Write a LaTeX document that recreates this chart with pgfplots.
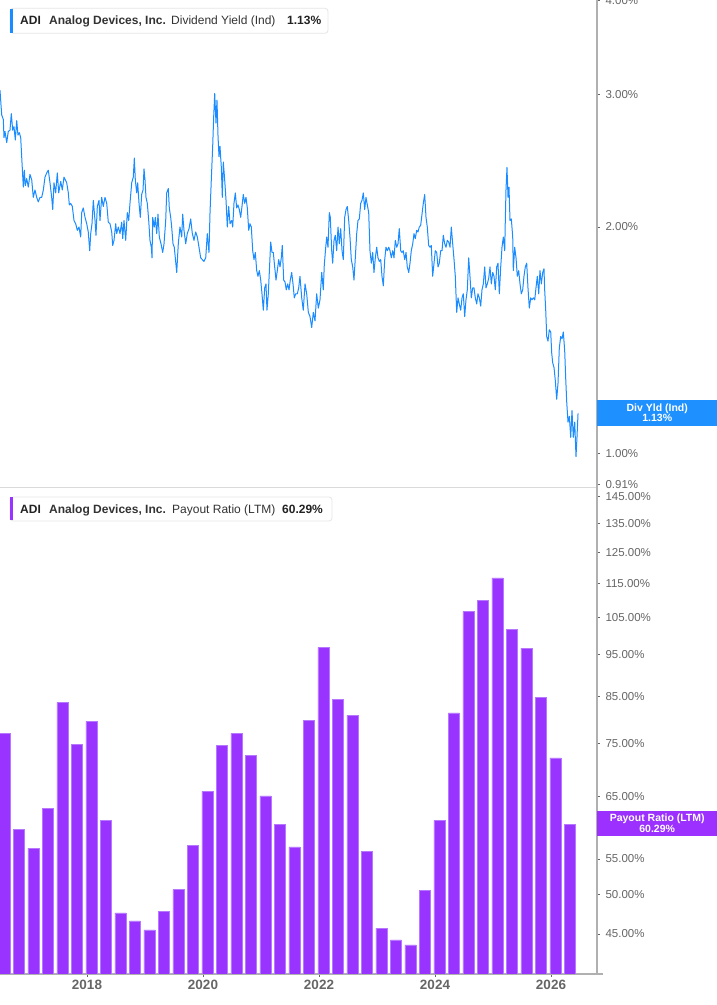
\documentclass[border=0pt]{standalone}
\usepackage{fontspec}
\setmainfont{Liberation Sans}
\usepackage{pgfplots}
\pgfplotsset{compat=1.18}
\definecolor{lineblue}{HTML}{1A8CFF}
\definecolor{barpurple}{HTML}{9933FF}
\definecolor{baredge}{HTML}{B877FF}
\definecolor{axisgray}{HTML}{B0B0B0}
\definecolor{sepgray}{HTML}{DADADA}
\definecolor{tickgray}{HTML}{666666}
\definecolor{labelgray}{HTML}{666666}
\definecolor{textdark}{HTML}{222222}
\definecolor{textmid}{HTML}{333333}
\definecolor{boxborder}{HTML}{E6E6E6}
\definecolor{boxblue}{HTML}{1E90FF}
\definecolor{boxpurple}{HTML}{9B30FF}
\begin{document}
\begin{tikzpicture}
\path[use as bounding box, fill=white] (0pt,0pt) rectangle (717pt,1005pt);
% ---------------- top panel: dividend yield ----------------
\begin{axis}[
  at={(0pt,518pt)}, anchor=south west, scale only axis,
  width=597pt, height=487pt,
  xmin=2016.5, xmax=2026.793,
  ymode=log, ymin=0.902, ymax=4.008,
  axis x line*=bottom, axis y line*=right,
  x axis line style={draw=sepgray, line width=0.8pt},
  y axis line style={draw=axisgray, line width=1.6pt},
  xtick=\empty,
  ytick={0.91,1,2,3,4},
  yticklabels={0.91\%,1.00\%,2.00\%,3.00\%,4.00\%},
  tick align=outside, major tick length=3pt,
  major tick style={draw=tickgray, line width=0.9pt},
  yticklabel style={font=\fontsize{11.5}{13}\selectfont, text=labelgray, anchor=west, xshift=2pt},
  clip mode=individual,
]
\addplot[lineblue, line width=1pt, line join=round] coordinates {
(2016.500,3.04) (2016.529,2.82) (2016.557,2.78) (2016.569,2.63) (2016.586,2.68) (2016.616,2.59) (2016.643,2.68) (2016.672,2.69) (2016.695,2.83) (2016.719,2.69) (2016.741,2.72) (2016.764,2.61) (2016.788,2.77) (2016.810,2.65) (2016.833,2.67) (2016.857,2.63) (2016.874,2.48) (2016.902,2.26) (2016.919,2.38) (2016.936,2.27) (2016.960,2.32) (2016.988,2.26) (2017.017,2.35) (2017.047,2.31) (2017.074,2.19) (2017.103,2.24) (2017.133,2.19) (2017.160,2.16) (2017.190,2.19) (2017.219,2.19) (2017.247,2.24) (2017.276,2.33) (2017.305,2.36) (2017.333,2.38) (2017.362,2.29) (2017.391,2.19) (2017.409,2.11) (2017.431,2.29) (2017.460,2.22) (2017.488,2.36) (2017.512,2.22) (2017.547,2.30) (2017.574,2.24) (2017.603,2.33) (2017.626,2.31) (2017.650,2.29) (2017.678,2.22) (2017.695,2.14) (2017.719,2.15) (2017.747,2.13) (2017.776,2.04) (2017.805,2.02) (2017.833,1.98) (2017.862,2.00) (2017.891,1.94) (2017.909,2.09) (2017.936,2.12) (2017.966,2.06) (2017.995,2.02) (2018.022,1.97) (2018.047,1.86) (2018.064,1.96) (2018.086,2.02) (2018.109,2.17) (2018.138,2.04) (2018.155,1.95) (2018.178,2.13) (2018.207,2.17) (2018.224,2.04) (2018.253,2.19) (2018.281,2.13) (2018.310,2.19) (2018.340,2.15) (2018.367,2.03) (2018.397,2.02) (2018.426,1.97) (2018.443,1.89) (2018.466,1.92) (2018.495,2.02) (2018.512,1.96) (2018.540,2.00) (2018.569,1.96) (2018.598,2.03) (2018.616,1.93) (2018.638,2.04) (2018.667,1.92) (2018.695,2.09) (2018.719,2.04) (2018.741,2.15) (2018.771,2.29) (2018.798,2.33) (2018.816,2.47) (2018.833,2.31) (2018.857,2.22) (2018.874,2.29) (2018.897,2.15) (2018.919,2.06) (2018.943,2.21) (2018.966,2.24) (2018.983,2.39) (2019.000,2.31) (2019.017,2.19) (2019.040,2.15) (2019.064,2.04) (2019.086,1.92) (2019.109,1.88) (2019.121,1.82) (2019.133,2.06) (2019.160,2.00) (2019.178,2.06) (2019.202,1.96) (2019.224,2.08) (2019.247,1.94) (2019.276,1.90) (2019.305,1.85) (2019.328,1.90) (2019.357,2.04) (2019.374,2.22) (2019.402,2.25) (2019.419,2.12) (2019.443,2.06) (2019.460,2.00) (2019.483,1.90) (2019.505,1.88) (2019.547,1.74) (2019.574,1.90) (2019.603,2.00) (2019.633,1.94) (2019.650,2.08) (2019.672,1.98) (2019.702,1.90) (2019.729,1.96) (2019.759,1.99) (2019.788,2.05) (2019.816,1.96) (2019.845,1.92) (2019.874,1.97) (2019.902,1.94) (2019.931,1.88) (2019.960,1.82) (2019.988,1.81) (2020.017,1.80) (2020.047,1.82) (2020.074,1.96) (2020.103,1.85) (2020.121,2.09) (2020.143,2.31) (2020.167,2.56) (2020.184,2.80) (2020.202,3.01) (2020.224,2.75) (2020.241,2.95) (2020.259,2.64) (2020.276,2.48) (2020.293,2.56) (2020.316,2.40) (2020.333,2.19) (2020.350,2.44) (2020.374,2.31) (2020.397,2.17) (2020.419,2.00) (2020.443,2.13) (2020.466,2.02) (2020.495,2.04) (2020.512,2.00) (2020.534,2.15) (2020.557,2.22) (2020.581,2.12) (2020.603,2.14) (2020.626,2.11) (2020.650,2.06) (2020.672,2.13) (2020.695,2.21) (2020.719,2.15) (2020.741,2.19) (2020.764,2.12) (2020.788,1.98) (2020.810,2.02) (2020.833,2.00) (2020.857,1.86) (2020.879,1.81) (2020.902,1.85) (2020.926,1.75) (2020.948,1.72) (2020.971,1.75) (2020.995,1.70) (2021.017,1.63) (2021.040,1.55) (2021.064,1.66) (2021.086,1.68) (2021.103,1.55) (2021.126,1.63) (2021.143,1.74) (2021.167,1.91) (2021.190,1.85) (2021.212,1.85) (2021.236,1.77) (2021.259,1.70) (2021.281,1.75) (2021.305,1.81) (2021.328,1.77) (2021.350,1.82) (2021.367,1.89) (2021.391,1.70) (2021.414,1.69) (2021.436,1.65) (2021.460,1.68) (2021.483,1.65) (2021.505,1.70) (2021.529,1.74) (2021.552,1.68) (2021.574,1.61) (2021.598,1.63) (2021.626,1.63) (2021.650,1.66) (2021.672,1.72) (2021.702,1.61) (2021.729,1.55) (2021.759,1.68) (2021.788,1.63) (2021.816,1.54) (2021.845,1.52) (2021.874,1.47) (2021.902,1.54) (2021.931,1.50) (2021.960,1.63) (2021.988,1.56) (2022.017,1.60) (2022.047,1.74) (2022.074,1.65) (2022.091,1.78) (2022.116,1.88) (2022.133,1.94) (2022.155,1.88) (2022.178,2.09) (2022.195,2.06) (2022.219,1.86) (2022.236,1.79) (2022.259,1.92) (2022.281,1.95) (2022.305,1.86) (2022.328,2.00) (2022.350,1.90) (2022.374,1.99) (2022.397,1.86) (2022.419,1.81) (2022.443,2.06) (2022.466,2.11) (2022.488,2.13) (2022.512,2.04) (2022.534,1.94) (2022.557,1.81) (2022.581,1.77) (2022.603,1.70) (2022.626,1.82) (2022.650,1.96) (2022.672,2.04) (2022.695,2.05) (2022.719,2.15) (2022.741,2.17) (2022.764,2.22) (2022.788,2.11) (2022.810,2.19) (2022.833,2.14) (2022.857,2.09) (2022.879,1.86) (2022.902,1.79) (2022.926,1.85) (2022.948,1.74) (2022.971,1.82) (2022.995,1.88) (2023.017,1.82) (2023.040,1.80) (2023.064,1.81) (2023.086,1.72) (2023.109,1.67) (2023.133,1.81) (2023.155,1.88) (2023.178,1.86) (2023.202,1.88) (2023.224,1.86) (2023.247,1.82) (2023.271,1.86) (2023.293,1.82) (2023.316,1.92) (2023.340,1.88) (2023.362,1.90) (2023.384,1.99) (2023.409,1.86) (2023.431,1.85) (2023.453,1.86) (2023.478,1.81) (2023.500,1.85) (2023.522,1.77) (2023.547,1.74) (2023.569,1.79) (2023.591,1.86) (2023.616,1.90) (2023.638,1.96) (2023.660,1.93) (2023.684,1.98) (2023.707,1.97) (2023.729,2.00) (2023.753,2.01) (2023.776,2.08) (2023.798,2.15) (2023.822,2.21) (2023.845,2.06) (2023.867,2.00) (2023.891,1.89) (2023.914,1.88) (2023.936,1.89) (2023.960,1.72) (2023.983,1.79) (2024.005,1.86) (2024.029,1.85) (2024.052,1.77) (2024.074,1.79) (2024.098,1.86) (2024.121,1.86) (2024.143,1.95) (2024.167,1.90) (2024.190,1.88) (2024.212,1.92) (2024.236,1.91) (2024.259,1.88) (2024.281,2.00) (2024.305,1.90) (2024.328,1.81) (2024.350,1.72) (2024.374,1.54) (2024.397,1.61) (2024.419,1.58) (2024.443,1.55) (2024.466,1.61) (2024.488,1.63) (2024.512,1.52) (2024.534,1.60) (2024.557,1.65) (2024.581,1.82) (2024.603,1.72) (2024.626,1.61) (2024.650,1.66) (2024.672,1.66) (2024.695,1.61) (2024.719,1.58) (2024.741,1.63) (2024.764,1.61) (2024.788,1.57) (2024.810,1.65) (2024.833,1.68) (2024.857,1.77) (2024.879,1.66) (2024.902,1.68) (2024.926,1.71) (2024.948,1.77) (2024.971,1.68) (2024.995,1.74) (2025.017,1.72) (2025.040,1.65) (2025.064,1.77) (2025.086,1.79) (2025.109,1.63) (2025.133,1.77) (2025.155,1.88) (2025.178,1.94) (2025.202,1.86) (2025.212,2.04) (2025.224,2.24) (2025.241,2.40) (2025.259,2.19) (2025.276,2.26) (2025.293,2.04) (2025.316,2.05) (2025.340,1.94) (2025.350,1.75) (2025.374,1.88) (2025.397,1.82) (2025.419,1.72) (2025.443,1.75) (2025.466,1.68) (2025.488,1.63) (2025.512,1.65) (2025.534,1.72) (2025.557,1.77) (2025.581,1.79) (2025.603,1.66) (2025.626,1.56) (2025.650,1.61) (2025.672,1.60) (2025.695,1.61) (2025.719,1.60) (2025.741,1.66) (2025.764,1.72) (2025.788,1.63) (2025.810,1.75) (2025.833,1.68) (2025.857,1.74) (2025.879,1.76) (2025.891,1.65) (2025.909,1.55) (2025.926,1.43) (2025.948,1.41) (2025.971,1.46) (2025.995,1.45) (2026.012,1.36) (2026.029,1.32) (2026.052,1.30) (2026.074,1.25) (2026.098,1.18) (2026.121,1.24) (2026.143,1.38) (2026.167,1.43) (2026.190,1.42) (2026.212,1.45) (2026.236,1.37) (2026.253,1.26) (2026.271,1.17) (2026.293,1.10) (2026.316,1.12) (2026.340,1.05) (2026.362,1.14) (2026.384,1.05) (2026.409,1.10) (2026.431,0.99) (2026.448,1.05) (2026.466,1.13)
};
\end{axis}
% ---------------- bottom panel: payout ratio ----------------
\begin{axis}[
  at={(0pt,31pt)}, anchor=south west, scale only axis,
  width=597pt, height=487pt,
  xmin=2016.5, xmax=2026.793,
  ymode=log, ymin=40.43, ymax=148.8, log origin=infty,
  axis x line*=bottom, axis y line*=right,
  x axis line style={draw=axisgray, line width=1.6pt, shorten >=-6pt},
  y axis line style={draw=axisgray, line width=1.6pt},
  xtick={2018,2020,2022,2024,2026},
  xticklabels={2018,2020,2022,2024,2026},
  xticklabel style={font=\bfseries\fontsize{13.5}{15}\selectfont, text=labelgray},
  ytick={45,50,55,65,75,85,95,105,115,125,135,145},
  yticklabels={45.00\%,50.00\%,55.00\%,65.00\%,75.00\%,85.00\%,95.00\%,105.00\%,115.00\%,125.00\%,135.00\%,145.00\%},
  tick align=outside, major tick length=3pt,
  major tick style={draw=tickgray, line width=0.9pt},
  yticklabel style={font=\fontsize{11.5}{13}\selectfont, text=labelgray, anchor=west, xshift=2pt},
  clip mode=individual,
]
\addplot[ybar, bar width=0.19, fill=barpurple, draw=baredge, line width=0.5pt] coordinates {
(2016.575,77.0) (2016.825,59.5) (2017.075,56.6) (2017.325,63.0) (2017.575,83.6) (2017.825,74.7) (2018.075,79.5) (2018.325,61.0) (2018.575,47.6) (2018.825,46.6) (2019.075,45.5) (2019.325,47.8) (2019.575,50.7) (2019.825,57.0) (2020.075,65.9) (2020.325,74.5) (2020.575,77.0) (2020.825,72.6) (2021.075,65.1) (2021.325,60.3) (2021.575,56.8) (2021.825,79.7) (2022.075,96.9) (2022.325,84.3) (2022.575,80.8) (2022.825,56.1) (2023.075,45.7) (2023.325,44.3) (2023.575,43.7) (2023.825,50.6) (2024.075,61.0) (2024.325,81.3) (2024.575,106.7) (2024.825,109.8) (2025.075,116.7) (2025.325,101.6) (2025.575,96.7) (2025.825,84.8) (2026.075,72.1) (2026.325,60.29)
};
\end{axis}
% ---------------- legends and value tags ----------------
\draw[boxborder, fill=white, rounded corners=3pt, line width=0.8pt] (10pt,971.7pt) rectangle (328pt,996.7pt);
\fill[lineblue] (10pt,972.2pt) rectangle (13pt,996.2pt);
\node[anchor=base west, inner sep=0, text=textdark, font=\bfseries\fontsize{12}{14}\selectfont] at (20pt,980pt) {ADI};
\node[anchor=base west, inner sep=0, text=textmid, font=\bfseries\fontsize{12}{14}\selectfont] at (49pt,980pt) {Analog Devices, Inc.};
\node[anchor=base west, inner sep=0, text=textmid, font=\fontsize{12}{14}\selectfont] at (171pt,980pt) {Dividend Yield (Ind)};
\node[anchor=base west, inner sep=0, text=textdark, font=\bfseries\fontsize{12}{14}\selectfont] at (287pt,980pt) {1.13\%};

\draw[boxborder, fill=white, rounded corners=3pt, line width=0.8pt] (10pt,484pt) rectangle (332pt,508pt);
\fill[barpurple] (10pt,484.5pt) rectangle (13pt,507.5pt);
\node[anchor=base west, inner sep=0, text=textdark, font=\bfseries\fontsize{12}{14}\selectfont] at (20pt,491pt) {ADI};
\node[anchor=base west, inner sep=0, text=textmid, font=\bfseries\fontsize{12}{14}\selectfont] at (49pt,491pt) {Analog Devices, Inc.};
\node[anchor=base west, inner sep=0, text=textmid, font=\fontsize{12}{14}\selectfont] at (172pt,491pt) {Payout Ratio (LTM)};
\node[anchor=base west, inner sep=0, text=textdark, font=\bfseries\fontsize{12}{14}\selectfont] at (282pt,491pt) {60.29\%};

\node[fill=boxblue, text=white, inner sep=0, minimum width=120pt, minimum height=25.7pt, anchor=west, align=center, font=\bfseries\fontsize{10.5}{10.4}\selectfont] at (597pt,592.2pt) {Div Yld (Ind)\\1.13\%};
\node[fill=boxpurple, text=white, inner sep=0, minimum width=120pt, minimum height=25.3pt, anchor=west, align=center, font=\bfseries\fontsize{10.5}{10.6}\selectfont] at (597pt,181.7pt) {Payout Ratio (LTM)\\60.29\%};
\end{tikzpicture}
\end{document}
